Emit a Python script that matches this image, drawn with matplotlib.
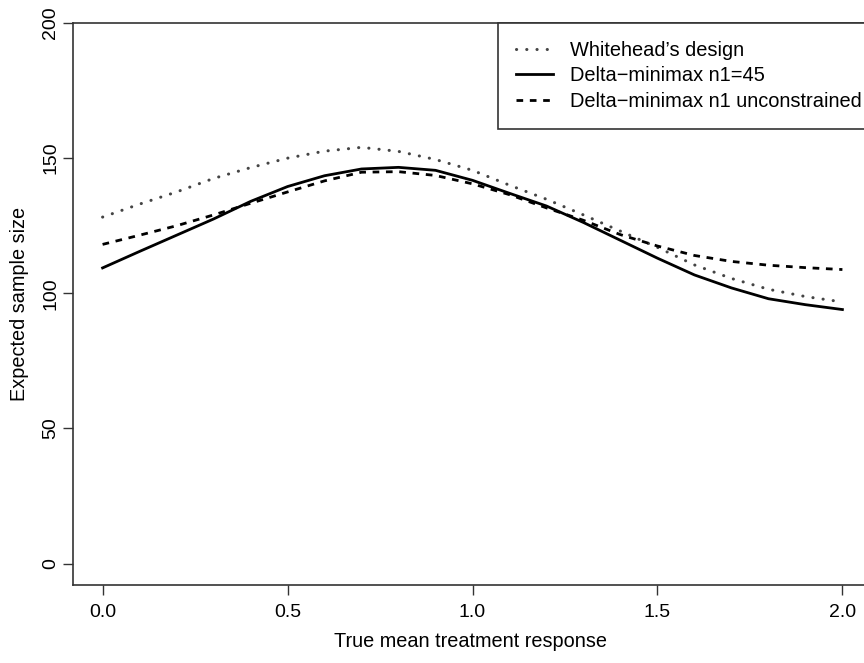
import matplotlib
matplotlib.use("Agg")
import matplotlib.pyplot as plt
import numpy as np

plt.rcParams['font.family'] = ['Liberation Sans', 'DejaVu Sans']

# true mean treatment response
x_vals = [0.0, 0.1, 0.2, 0.3, 0.4, 0.5, 0.6, 0.7, 0.8, 0.9, 1.0,
          1.1, 1.2, 1.3, 1.4, 1.5, 1.6, 1.7, 1.8, 1.9, 2.0]

# expected sample size
whitehead = [128.2, 133.0, 137.5, 142.5, 146.5, 150.0, 152.6, 154.0, 152.5, 149.5, 145.5,
             140.0, 134.8, 129.0, 123.0, 117.0, 110.5, 105.5, 101.5, 98.8, 96.8]
dm_n1_45 = [109.4, 115.5, 121.5, 127.5, 134.0, 139.5, 143.5, 146.0, 146.6, 145.5, 141.8,
            137.0, 132.3, 126.2, 119.6, 113.0, 106.8, 102.0, 98.0, 95.8, 94.0]
dm_free = [118.1, 121.5, 125.0, 129.0, 133.3, 137.5, 141.6, 144.8, 145.0, 143.6, 140.5,
           136.5, 131.6, 127.0, 121.7, 117.5, 114.0, 111.8, 110.4, 109.5, 108.8]

labels = ["Whitehead\u2019s design", "Delta\u2212minimax n1=45",
          "Delta\u2212minimax n1 unconstrained"]
xticks = [0.0, 0.5, 1.0, 1.5, 2.0]
yticks = [0, 50, 100, 150, 200]

fig = plt.figure(figsize=(8.64, 6.63), dpi=100)
# the original plot region runs past the right edge of the picture
ax = fig.add_axes([73 / 864, 78 / 663, 799 / 864, 562 / 663])

ax.plot(x_vals, whitehead, color='#444444', lw=2.2,
        linestyle=(0, (0.05, 3.3)), dash_capstyle='round', label=labels[0])
ax.plot(x_vals, dm_n1_45, color='black', lw=2.0, label=labels[1])
ax.plot(x_vals, dm_free, color='black', lw=2.0,
        linestyle=(0, (2.4, 2.4)), label=labels[2])

ax.set_xlim(-0.08, 2.08)
ax.set_ylim(-7.9, 200)
ax.set_xticks(xticks)
ax.set_xticklabels(["%.1f" % v for v in xticks])
ax.set_yticks(yticks)
ax.set_yticklabels([str(v) for v in yticks], rotation=90, va='center')

for s in ax.spines.values():
    s.set_color('#333333')
    s.set_linewidth(1.2)
ax.tick_params(axis='both', colors='#333333', labelcolor='black',
               length=7, width=1.0, labelsize=14)
ax.tick_params(axis='x', pad=7)
ax.tick_params(axis='y', pad=3)

ax.set_xlabel("True mean treatment response", fontsize=14.3)
ax.set_ylabel("Expected sample size", fontsize=14.3)
ax.xaxis.set_label_coords(0.497, -0.083)
ax.yaxis.set_label_coords(-0.055, 0.5)

leg = ax.legend(loc='upper left', bbox_to_anchor=(1.069, 200),
                bbox_transform=ax.transData, fontsize=14.4,
                fancybox=False, framealpha=1, edgecolor='#333333',
                handlelength=1.85, handletextpad=0.85, borderpad=0.9,
                labelspacing=0.32, borderaxespad=0)
leg.get_frame().set_linewidth(1.2)

fig.savefig("out.png", dpi=100)
